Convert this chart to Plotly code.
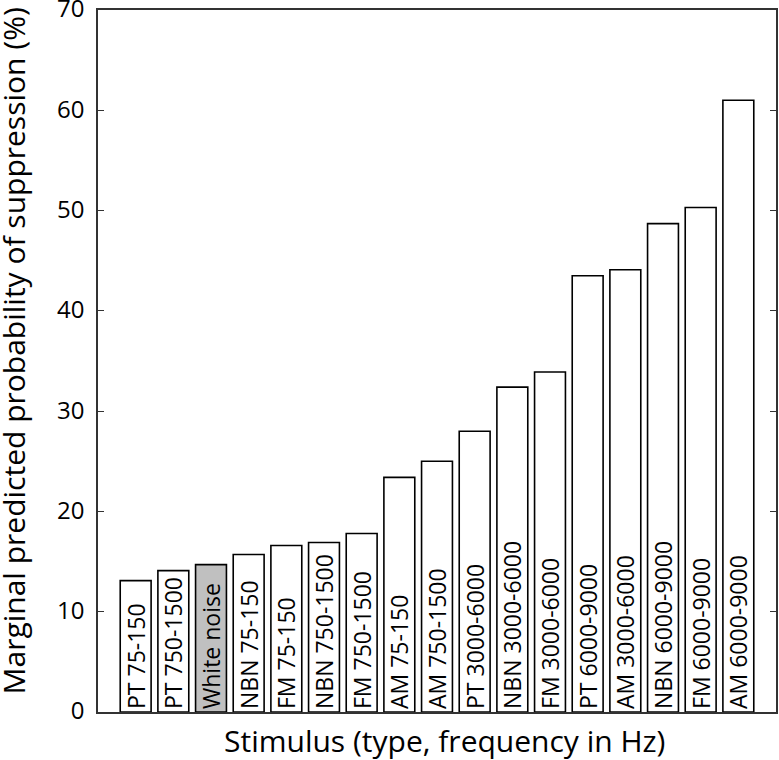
import plotly.graph_objects as go

categories = ["PT 75-150", "PT 750-1500", "White noise", "NBN 75-150", "FM 75-150",
              "NBN 750-1500", "FM 750-1500", "AM 75-150", "AM 750-1500", "PT 3000-6000",
              "NBN 3000-6000", "FM 3000-6000", "PT 6000-9000", "AM 3000-6000",
              "NBN 6000-9000", "FM 6000-9000", "AM 6000-9000"]
values = [13.1, 14.1, 14.7, 15.7, 16.6, 16.9, 17.8, 23.4, 25.0, 28.0,
          32.4, 33.9, 43.5, 44.1, 48.7, 50.3, 61.0]
y_ticks = [0, 10, 20, 30, 40, 50, 60, 70]
x_title = "Stimulus (type, frequency in Hz)"
y_title = "Marginal predicted probability of suppression (%)"

FONT = "Open Sans"
colors = ["#c0c0c0" if c == "White noise" else "white" for c in categories]

fig = go.Figure(go.Bar(
    x=categories, y=values,
    marker=dict(color=colors, line=dict(color="black", width=1.6)),
    text=categories, textposition="inside", textangle=-90,
    insidetextanchor="start", constraintext="none",
    textfont=dict(family=FONT, size=23, color="black"),
    hoverinfo="x+y",
))

fig.update_layout(
    width=779, height=760,
    margin=dict(l=98, r=3, t=10, b=48),
    paper_bgcolor="white", plot_bgcolor="white",
    bargap=0.18, showlegend=False,
    font=dict(family=FONT, color="black"),
)
fig.update_xaxes(
    type="category", range=[-1, 17], showticklabels=False, ticks="",
    showline=True, linecolor="#333333", linewidth=1.5, mirror=True,
    showgrid=False, zeroline=False, automargin=False,
)
fig.update_yaxes(
    range=[0, 70.001], tickvals=y_ticks, ticks="inside", ticklen=6, tickwidth=1.2,
    tickcolor="#333333", showline=True, linecolor="#333333", linewidth=1.5,
    mirror="ticks", showgrid=False, zeroline=False, automargin=False,
    tickfont=dict(size=24), ticklabelstandoff=7, ticklabeloverflow="allow",
    ticklabelshift=-1,
)
fig.add_annotation(
    text=y_title, xref="paper", yref="paper", x=0, y=0.5,
    xanchor="center", yanchor="middle", xshift=-85.5, yshift=10,
    textangle=-90, showarrow=False, font=dict(family=FONT, size=30, color="black"),
)
fig.add_annotation(
    text=x_title, xref="paper", yref="paper", x=0.5, y=0,
    xanchor="center", yanchor="middle", xshift=7, yshift=-28.5,
    showarrow=False, font=dict(family=FONT, size=30, color="black"),
)

fig.write_html("out.html", config={"displayModeBar": False},
               post_script="document.body.style.margin='0';")
